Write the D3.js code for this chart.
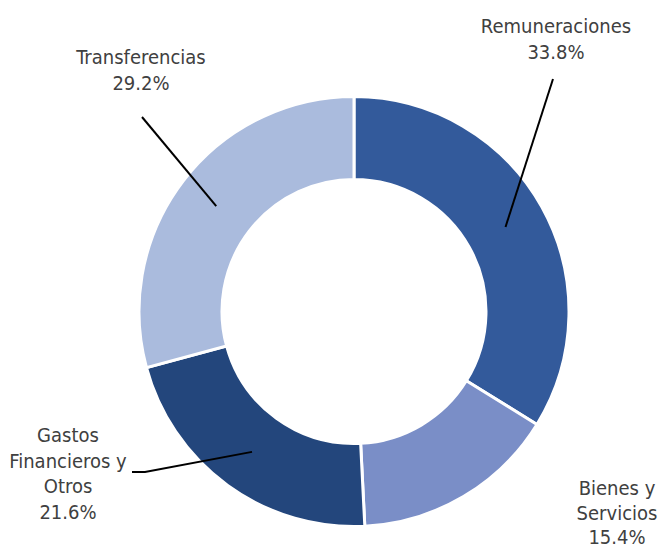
<!DOCTYPE html>
<html><head><meta charset="utf-8">
<script src="https://cdn.jsdelivr.net/npm/d3@7"></script>
<style>
html,body{margin:0;padding:0;background:#fff;}
svg{display:block;}
text{font-family:"DejaVu Sans Condensed","Liberation Sans Narrow",sans-serif;fill:#404040;font-size:20px;}
</style></head>
<body>
<svg id="chart" width="658" height="550"></svg>
<script>
// ---- data ----
const categories = ["Remuneraciones", "Bienes y Servicios", "Gastos Financieros y Otros", "Transferencias"];
const values = [33.8, 15.4, 21.6, 29.2];
const labelLines = [
  ["Remuneraciones"],
  ["Bienes y", "Servicios"],
  ["Gastos", "Financieros y", "Otros"],
  ["Transferencias"]
];
const colors = ["#335A9B", "#7A8EC7", "#23467C", "#AABBDD"];

// ---- layout ----
const W = 658, H = 550;
const cx = 354, cy = 311.5, rOuter = 215, rInner = 132;
// label anchor (center x, first baseline y, line gap), leader elbow/end points
const labelLayout = [
  {x: 556, y: 33, gap: 25.7, leader: [[553, 79]]},
  {x: 617, y: 495, gap: 24.5, leader: null},
  {x: 68, y: 442, gap: 25.7, leader: [[145, 472], [132, 472]]},
  {x: 141, y: 64, gap: 25.7, leader: [[142, 117]]}
];

const svg = d3.select("#chart");
const g = svg.append("g").attr("transform", `translate(${cx},${cy})`);

const data = categories.map((c, i) => ({cat: c, value: values[i], i}));
const pie = d3.pie().value(d => d.value).sort(null);
const arc = d3.arc().innerRadius(rInner).outerRadius(rOuter);
const arcs = pie(data);

g.selectAll("path.slice").data(arcs).join("path")
  .attr("class", "slice")
  .attr("d", arc)
  .attr("fill", d => colors[d.data.i])
  .attr("stroke", "#fff")
  .attr("stroke-width", 3)
  .attr("stroke-linejoin", "miter");

// leader lines from centroid outward
arcs.forEach(a => {
  const L = labelLayout[a.data.i];
  if (!L.leader) return;
  const c = arc.centroid(a);
  const pts = [[c[0] + cx, c[1] + cy]].concat(L.leader);
  svg.append("path")
    .attr("d", d3.line()(pts))
    .attr("fill", "none")
    .attr("stroke", "#000")
    .attr("stroke-width", 2);
});

// labels
arcs.forEach(a => {
  const i = a.data.i;
  const L = labelLayout[i];
  const lines = labelLines[i].concat([d3.format(".1f")(a.data.value) + "%"]);
  const t = svg.append("text").attr("text-anchor", "middle");
  lines.forEach((ln, k) => {
    t.append("tspan").attr("x", L.x).attr("y", L.y + k * L.gap).text(ln);
  });
});
</script>
</body></html>
